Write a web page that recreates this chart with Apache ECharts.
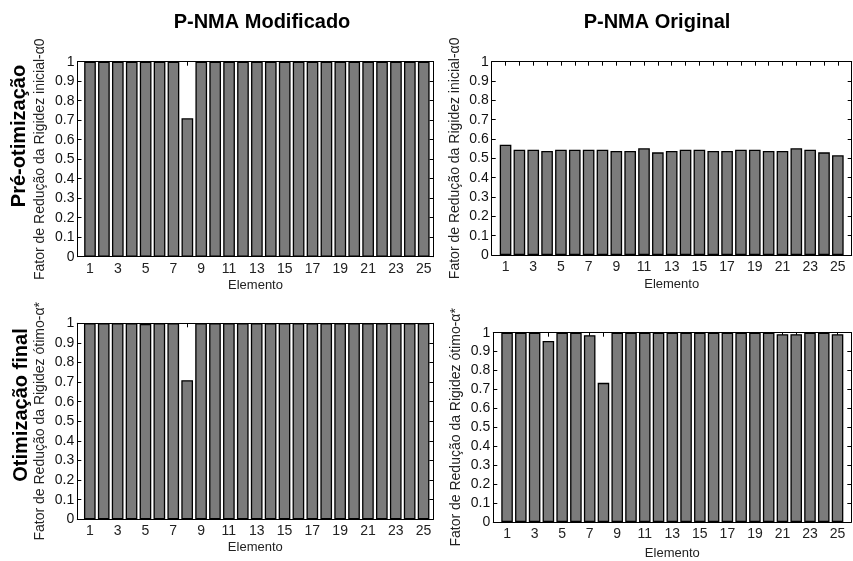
<!DOCTYPE html>
<html><head><meta charset="utf-8">
<script src="https://cdn.jsdelivr.net/npm/echarts@6/dist/echarts.min.js"></script>
<style>html,body{margin:0;padding:0;background:#fff}#c{width:853px;height:561px}</style>
</head><body><div id="c"></div>
<script>
const elements = [1,2,3,4,5,6,7,8,9,10,11,12,13,14,15,16,17,18,19,20,21,22,23,24,25];
const xTickLabels = [1,3,5,7,9,11,13,15,17,19,21,23,25];
const colTitles = ['P-NMA Modificado', 'P-NMA Original'];
const rowTitles = ['Pré-otimização', 'Otimização final'];
const yNames = ['Fator de Redução da Rigidez inicial-α0', 'Fator de Redução da Rigidez ótimo-α*'];
const xName = 'Elemento';
const preModified = [1,1,1,1,1,1,1,0.71,1,1,1,1,1,1,1,1,1,1,1,1,1,1,1,1,1];
const preOriginal = [0.57,0.545,0.545,0.538,0.545,0.545,0.545,0.545,0.538,0.538,0.552,0.531,0.538,0.545,0.545,0.538,0.538,0.545,0.545,0.538,0.538,0.552,0.545,0.531,0.516];
const finalModified = [1,1,1,1,0.997,1,1,0.71,1,1,1,1,1,1,1,1,1,1,1,1,1,1,1,1,1];
const finalOriginal = [1,1,1,0.956,1,1,0.987,0.735,1,1,1,1,1,1,1,1,1,1,1,1,0.992,0.992,1,1,0.992];

const FONT = 'Arial, "Liberation Sans", sans-serif';
const panels = [
  {grid:{left:77.5, top:61.7, width:356, height:195}, xmin:0.1, xmax:25.7, yName:yNames[0], values:preModified, nameGap:22},
  {grid:{left:491.7, top:61.7, width:360, height:193.3}, xmin:0, xmax:26, yName:yNames[0], values:preOriginal, nameGap:23},
  {grid:{left:77.3, top:323.3, width:356, height:196}, xmin:0.1, xmax:25.7, yName:yNames[1], values:finalModified, nameGap:22},
  {grid:{left:493.3, top:332.7, width:358, height:195}, xmin:0, xmax:26, yName:yNames[1], values:finalOriginal, nameGap:25}
];

const grid = [], xAxis = [], yAxis = [], series = [];
const lineStyle = {color:'#000', width:1};
panels.forEach((p, i) => {
  grid.push(Object.assign({containLabel:false}, p.grid));
  xAxis.push({
    type:'value', gridIndex:i, min:p.xmin, max:p.xmax, position:'bottom',
    axisLine:{show:true, onZero:false, lineStyle},
    axisTick:{show:true, inside:true, length:4, lineStyle, customValues:elements},
    axisLabel:{show:true, customValues:xTickLabels, color:'#222', fontSize:14, fontFamily:FONT, margin:5},
    splitLine:{show:false},
    name:xName, nameLocation:'middle', nameGap:p.nameGap,
    nameTextStyle:{color:'#222', fontSize:13, fontFamily:FONT}
  });
  xAxis.push({
    type:'value', gridIndex:i, min:p.xmin, max:p.xmax, position:'top',
    axisLine:{show:true, onZero:false, lineStyle},
    axisTick:{show:true, inside:true, length:4, lineStyle, customValues:elements},
    axisLabel:{show:false}, splitLine:{show:false}
  });
  yAxis.push({
    type:'value', gridIndex:i, min:0, max:1, interval:0.1, position:'left',
    axisLine:{show:true, onZero:false, lineStyle},
    axisTick:{show:true, inside:true, length:4, lineStyle},
    axisLabel:{color:'#111', fontSize:14, fontFamily:FONT, margin:3},
    splitLine:{show:false},
    name:p.yName, nameLocation:'middle', nameGap:30,
    nameTextStyle:{color:'#222', fontSize:14, fontFamily:FONT}
  });
  yAxis.push({
    type:'value', gridIndex:i, min:0, max:1, interval:0.1, position:'right',
    axisLine:{show:true, onZero:false, lineStyle},
    axisTick:{show:true, inside:true, length:4, lineStyle},
    axisLabel:{show:false}, splitLine:{show:false}
  });
  series.push({
    type:'bar', xAxisIndex:2*i, yAxisIndex:2*i, barWidth:'84%',
    itemStyle:{color:'#7b7b7b', borderColor:'#000', borderWidth:1.3},
    data: elements.map((e, k) => [e, p.values[k]]),
    silent:true, animation:false
  });
});

const graphic = [
  {type:'text', x:262, y:22, style:{text:colTitles[0], font:'bold 20px ' + FONT, fill:'#000', textAlign:'center', textVerticalAlign:'middle'}},
  {type:'text', x:657, y:22, style:{text:colTitles[1], font:'bold 20px ' + FONT, fill:'#000', textAlign:'center', textVerticalAlign:'middle'}},
  {type:'text', x:19, y:136, rotation:Math.PI/2, style:{text:rowTitles[0], font:'bold 20px ' + FONT, fill:'#000', textAlign:'center', textVerticalAlign:'middle'}},
  {type:'text', x:21, y:405, rotation:Math.PI/2, style:{text:rowTitles[1], font:'bold 20px ' + FONT, fill:'#000', textAlign:'center', textVerticalAlign:'middle'}}
];

const chart = echarts.init(document.getElementById('c'), null, {renderer:'canvas'});
chart.setOption({backgroundColor:'#fff', animation:false, grid, xAxis, yAxis, series, graphic});
</script></body></html>
